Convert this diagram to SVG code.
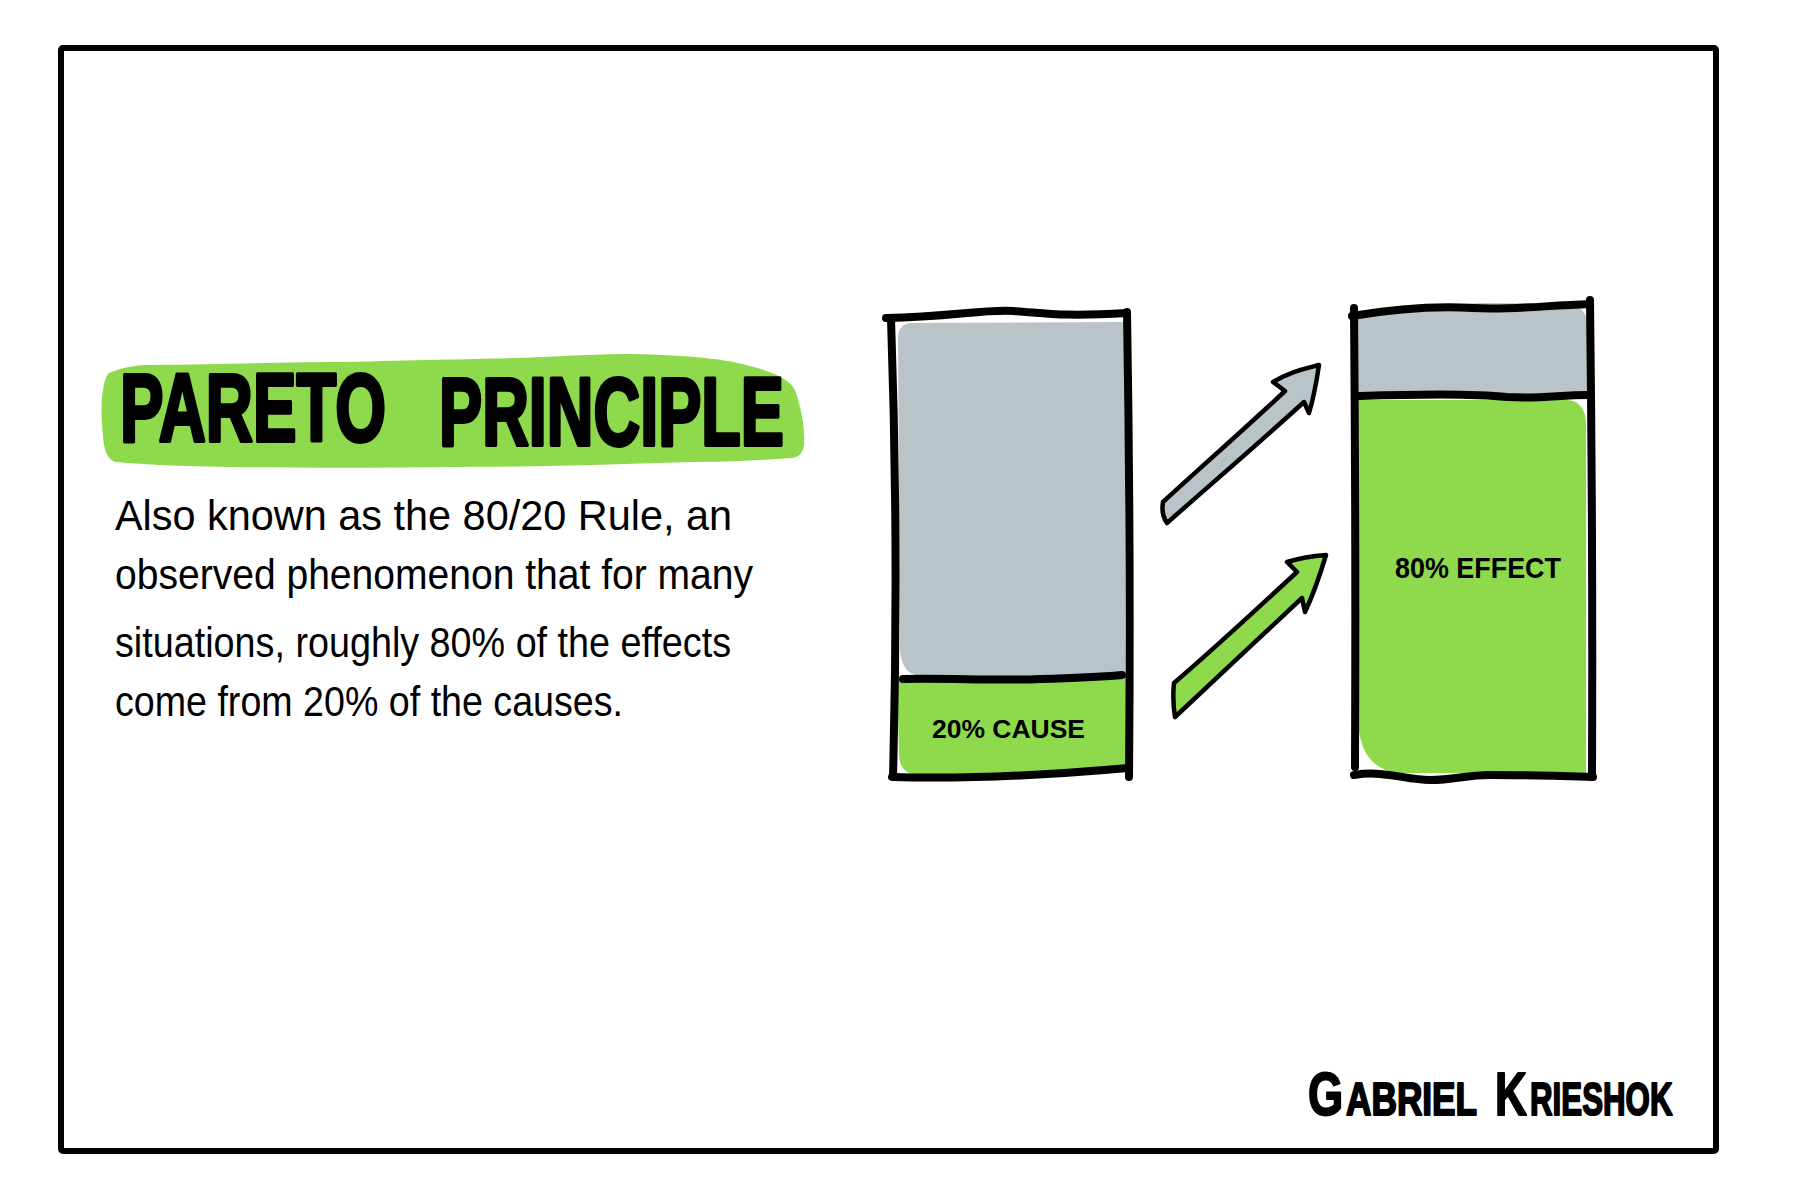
<svg xmlns="http://www.w3.org/2000/svg" width="1800" height="1200" viewBox="0 0 1800 1200">
<style>
.ink{fill:none;stroke:#000;stroke-width:8;stroke-linecap:round;stroke-linejoin:round}
.arrow{stroke:#000;stroke-width:4.5;stroke-linejoin:round;stroke-linecap:round}
.gray{fill:#B9C4C9}
.green{fill:#8FD94D}
.title{font-family:"Liberation Sans",Arial,sans-serif;font-weight:bold;font-size:64px;fill:#000;stroke:#000;stroke-width:2.6;stroke-linejoin:round}
.body{font-family:"Liberation Sans",Arial,sans-serif;font-size:42px;fill:#000}
.label{font-family:"Liberation Sans",Arial,sans-serif;font-weight:bold;fill:#000}
.sig{font-family:"Liberation Sans",Arial,sans-serif;font-weight:bold;fill:#000;stroke:#000;stroke-width:2;stroke-linejoin:round}
</style>
<rect width="1800" height="1200" fill="#fff"/>
<rect x="61" y="48" width="1655" height="1103" rx="2" fill="none" stroke="#000" stroke-width="6"/>

<g id="title">
<path class="green" d="M109 373 C125 366 140 365 149 365 C230 364 300 362 344 362 C420 360 470 359 517 358 C570 356 600 354 631 354 C690 355 730 360 746 365 C775 372 790 380 795 390 C802 410 805 430 804 445 C802 455 798 457 792 458 C750 461 720 462 689 462 C600 465 520 467 459 467 C380 468 300 468 230 467 C170 466 140 464 115 462 C106 458 104 448 103 436 C101 415 101 400 103 390 C104 382 106 376 109 373 Z"/>
<text class="title" transform="translate(120 441) scale(1 1.5)" x="0" y="0" textLength="266" lengthAdjust="spacingAndGlyphs">PARETO</text>
<text class="title" transform="translate(439 445) scale(1 1.5)" x="0" y="0" textLength="345" lengthAdjust="spacingAndGlyphs">PRINCIPLE</text>
</g>

<g id="description">
<text class="body" x="115" y="530" textLength="617" lengthAdjust="spacingAndGlyphs">Also known as the 80/20 Rule, an</text>
<text class="body" x="115" y="589" textLength="638" lengthAdjust="spacingAndGlyphs">observed phenomenon that for many</text>
<text class="body" x="115" y="657" textLength="616" lengthAdjust="spacingAndGlyphs">situations, roughly 80% of the effects</text>
<text class="body" x="115" y="716" textLength="508" lengthAdjust="spacingAndGlyphs">come from 20% of the causes.</text>
</g>

<g id="cause-bar">
<path class="gray" d="M898 338 Q898 323 913 323 L1125 322 L1125 676 L922 676 Q902 676 900 650 Z"/>
<path class="green" d="M897 679 L1126 677 L1126 772 L920 775 Q900 775 899 755 Z"/>
<path class="ink" d="M891 318 Q899 550 893 777"/>
<path class="ink" d="M886 318 C950 317 985 309 1013 311 C1045 313 1060 317 1127 313"/>
<path class="ink" d="M1127 312 Q1131 550 1129 777"/>
<path class="ink" d="M903 679 C950 678 1000 681 1040 679 C1080 678 1100 677 1122 675"/>
<path class="ink" d="M892 777 C960 779 1050 775 1128 768"/>
<text class="label" x="932" y="738" font-size="26" textLength="153" lengthAdjust="spacingAndGlyphs">20% CAUSE</text>
</g>

<g id="effect-bar">
<path class="gray" d="M1358 313 Q1420 305 1480 303 Q1560 303 1575 306 Q1587 310 1587 325 L1587 395 L1358 396 Z"/>
<path class="green" d="M1358 400 L1568 400 Q1586 402 1586 425 L1586 773 L1400 773 Q1360 770 1358 720 Z"/>
<path class="ink" d="M1354 308 Q1356 540 1355 767"/>
<path class="ink" d="M1352 316 C1400 308 1440 306 1473 308 C1510 310 1540 306 1590 304"/>
<path class="ink" d="M1590 300 Q1593 540 1592 777"/>
<path class="ink" d="M1360 396 C1420 394 1470 393 1507 397 C1540 399 1560 395 1587 395"/>
<path class="ink" d="M1354 775 C1385 770 1405 780 1430 780 C1455 780 1465 775 1490 775 C1530 775 1560 776 1593 777"/>
<text class="label" x="1395" y="578" font-size="30" textLength="166" lengthAdjust="spacingAndGlyphs">80% EFFECT</text>
</g>

<g id="connectors">
<path class="arrow gray" d="M1163 502 C1200 468 1250 424 1285 391 L1273 382 C1290 372 1300 370 1319 365 C1316 385 1313 400 1309 413 L1304 402 C1260 442 1210 485 1167 523 C1162 516 1162 508 1163 502 Z"/>
<path class="arrow green" d="M1174 683 C1215 648 1260 606 1297 572 L1287 562 C1300 558 1312 556 1326 555 C1320 575 1313 595 1305 612 L1302 598 C1260 637 1215 680 1175 717 C1173 705 1173 693 1174 683 Z"/>
</g>

<g id="signature">
<text class="sig" transform="translate(1308 1115) scale(0.73 1)" font-size="62">G</text>
<text class="sig" transform="translate(1346 1115) scale(0.766 1)" font-size="46">ABRIEL</text>
<text class="sig" transform="translate(1495 1115) scale(0.71 1)" font-size="62">K</text>
<text class="sig" transform="translate(1530 1115) scale(0.68 1)" font-size="46">RIESHOK</text>
</g>
</svg>
